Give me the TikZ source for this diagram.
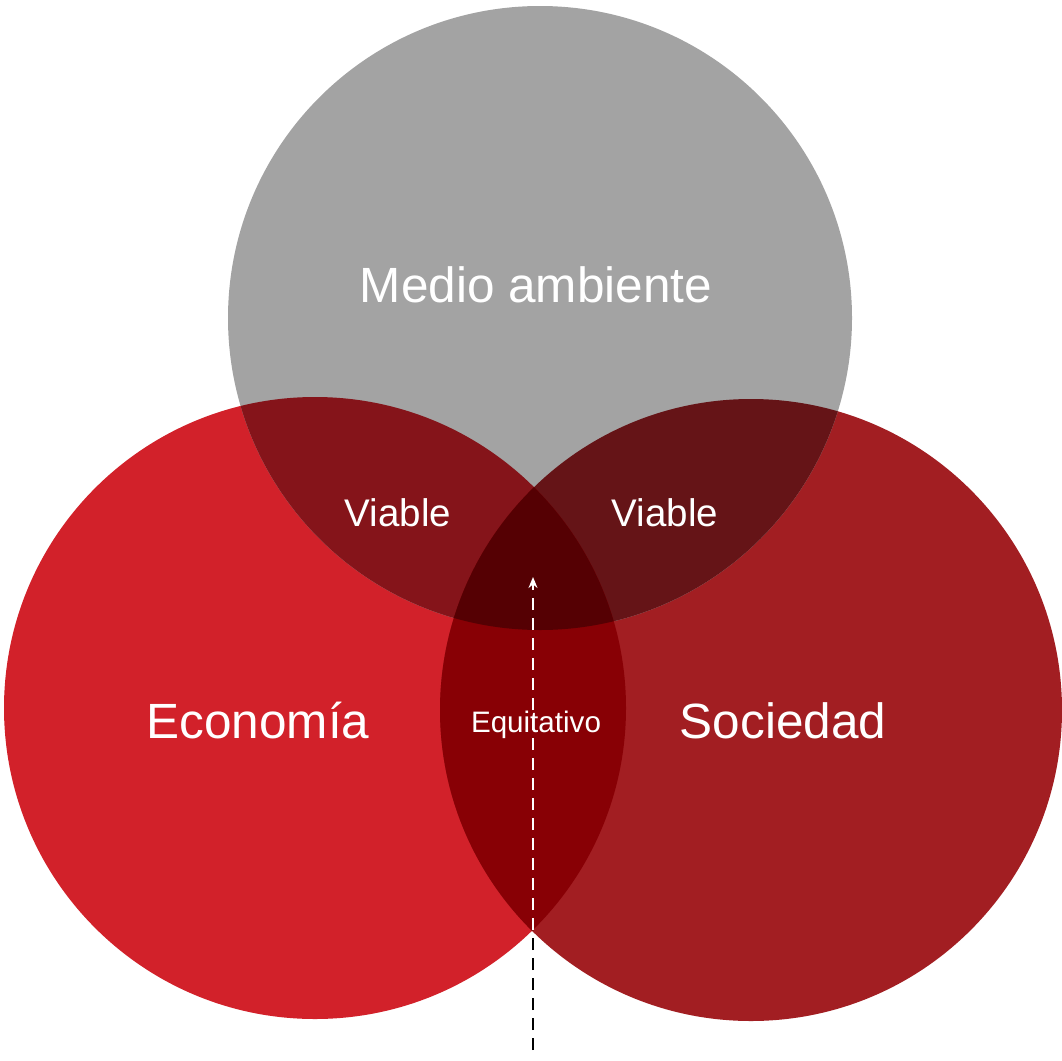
\documentclass[tikz,border=0pt]{standalone}
\usepackage{fontspec}
\setmainfont{Liberation Sans}
\usetikzlibrary{arrows.meta}

\definecolor{ecored}{HTML}{D2212A}
\definecolor{socred}{HTML}{A21E22}
\definecolor{medgray}{HTML}{A3A3A3}
\definecolor{ecomed}{HTML}{85141A}
\definecolor{socmed}{HTML}{651417}
\definecolor{ecosoc}{HTML}{880005}
\definecolor{corered}{HTML}{550003}

\begin{document}
\begin{tikzpicture}[x=1pt, y=-1pt,
  lbl/.style={text=white, inner sep=0pt, anchor=base},
  biglbl/.style={lbl, font=\fontsize{49.5}{50}\selectfont},
  midlbl/.style={lbl, font=\fontsize{38.5}{40}\selectfont},
  smalllbl/.style={lbl, font=\fontsize{29.6}{30}\selectfont},
  flow/.style={dash pattern=on 12pt off 8pt, line width=1.6pt},
]
  \useasboundingbox (0,0) rectangle (1062,1060);

  % circle centres
  \coordinate (eco) at (315,708);
  \coordinate (soc) at (751,710);
  \coordinate (med) at (540,318);

  % circles
  \fill[ecored] (eco) circle[radius=311];
  \fill[socred] (soc) circle[radius=311];
  \fill[medgray] (med) circle[radius=312];

  % overlaps
  \begin{scope}
    \clip (eco) circle[radius=311];
    \fill[ecomed] (med) circle[radius=312];
  \end{scope}
  \begin{scope}
    \clip (soc) circle[radius=311];
    \fill[socmed] (med) circle[radius=312];
  \end{scope}
  \begin{scope}
    \clip (eco) circle[radius=311];
    \fill[ecosoc] (soc) circle[radius=311];
  \end{scope}
  \begin{scope}
    \clip (eco) circle[radius=311];
    \clip (soc) circle[radius=311];
    \fill[corered] (med) circle[radius=312];
  \end{scope}

  % labels
  \node[biglbl] (medio) at (536,302) {Medio ambiente};
  \node[biglbl] (econ) at (258,738) {Economía};
  \node[biglbl] (socie) at (783,738) {Sociedad};
  \node[midlbl] (viab1) at (398,526) {Viable};
  \node[midlbl] (viab2) at (665,526) {Viable};
  \node[smalllbl] (equit) at (536,732) {Equitativo};

  % arrow
  \coordinate (tail) at (533,1050);
  \coordinate (meet) at (533,930);
  \coordinate (tip) at (533,577);
  \draw[flow, black] (tail) -- (meet);
  \draw[flow, white, -{Stealth[length=11pt, width=9pt]}] (meet) -- (tip);

\end{tikzpicture}
\end{document}
